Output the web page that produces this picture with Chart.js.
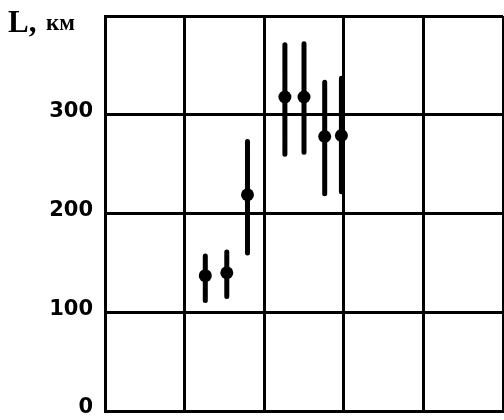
<!DOCTYPE html>
<html><head><meta charset="utf-8">
<script src="https://cdn.jsdelivr.net/npm/chart.js@4/dist/chart.umd.min.js"></script>
<style>html,body{margin:0;padding:0;background:#fff;}#wrap{width:504px;height:420px;}</style>
</head><body><div id="wrap"><canvas id="c" width="504" height="420"></canvas></div>
<script>
// ---- data ----
const xPos  = [1.26, 1.53, 1.79, 2.26, 2.50, 2.76, 2.97];
const meanL = [137, 140, 219, 318, 318, 278, 279];
const lowL  = [112, 116, 160, 260, 262, 220, 222];
const highL = [157, 161, 273, 371, 372, 333, 337];
const yTicks = [0, 100, 200, 300, 400];
const yTickLabels = ['0', '100', '200', '300', ''];
const xTicks = [0, 1, 2, 3, 4, 5];
const titleParts = ['L,', 'км'];

const whiskerData = [];
xPos.forEach((x, i) => {
  whiskerData.push({x: x, y: lowL[i]}, {x: x, y: highL[i]}, {x: x, y: null});
});
const meanData = xPos.map((x, i) => ({x: x, y: meanL[i]}));

const titlePlugin = {
  id: 'axisTitle',
  afterDraw(chart) {
    const ctx = chart.ctx;
    ctx.save();
    ctx.fillStyle = '#000';
    ctx.textBaseline = 'alphabetic';
    ctx.font = 'bold 31px "Liberation Serif"';
    ctx.fillText(titleParts[0], 8, 32);
    ctx.font = 'bold 23px "Liberation Serif"';
    ctx.fillText(titleParts[1], 46, 30);
    ctx.restore();
  }
};

const gridOpts = {color: '#000', lineWidth: 3, drawTicks: false};
const borderOpts = {color: '#000', width: 3};

new Chart(document.getElementById('c'), {
  type: 'scatter',
  data: {
    datasets: [
      {
        data: meanData,
        pointRadius: 6.5,
        pointHoverRadius: 6.5,
        backgroundColor: '#000',
        borderColor: '#000',
        borderWidth: 0,
        showLine: false
      },
      {
        data: whiskerData,
        showLine: true,
        spanGaps: false,
        borderColor: '#000',
        borderWidth: 5,
        borderCapStyle: 'round',
        pointRadius: 0,
        pointHoverRadius: 0
      }
    ]
  },
  options: {
    responsive: false,
    animation: false,
    devicePixelRatio: 1,
    layout: {autoPadding: false, padding: {top: 16, right: 1, bottom: 9, left: 0}},
    plugins: {legend: {display: false}, tooltip: {enabled: false}, title: {display: false}},
    scales: {
      x: {
        type: 'linear', min: 0, max: 5,
        afterBuildTicks: s => { s.ticks = xTicks.map(v => ({value: v})); },
        ticks: {display: false},
        grid: gridOpts,
        border: borderOpts,
        afterFit: s => { s.height = 0; s.paddingLeft = 0; s.paddingRight = 0; }
      },
      y: {
        type: 'linear', min: 0, max: 400,
        afterBuildTicks: s => { s.ticks = yTicks.map(v => ({value: v})); },
        ticks: {
          color: '#000',
          padding: 12,
          labelOffset: -3,
          font: {family: 'DejaVu Sans', weight: 'bold', size: 21},
          callback: (v) => yTickLabels[yTicks.indexOf(v)]
        },
        grid: gridOpts,
        border: borderOpts,
        afterFit: s => { s.width = 105; s.paddingTop = 0; s.paddingBottom = 0; }
      }
    }
  },
  plugins: [titlePlugin]
});
</script>
</body></html>
